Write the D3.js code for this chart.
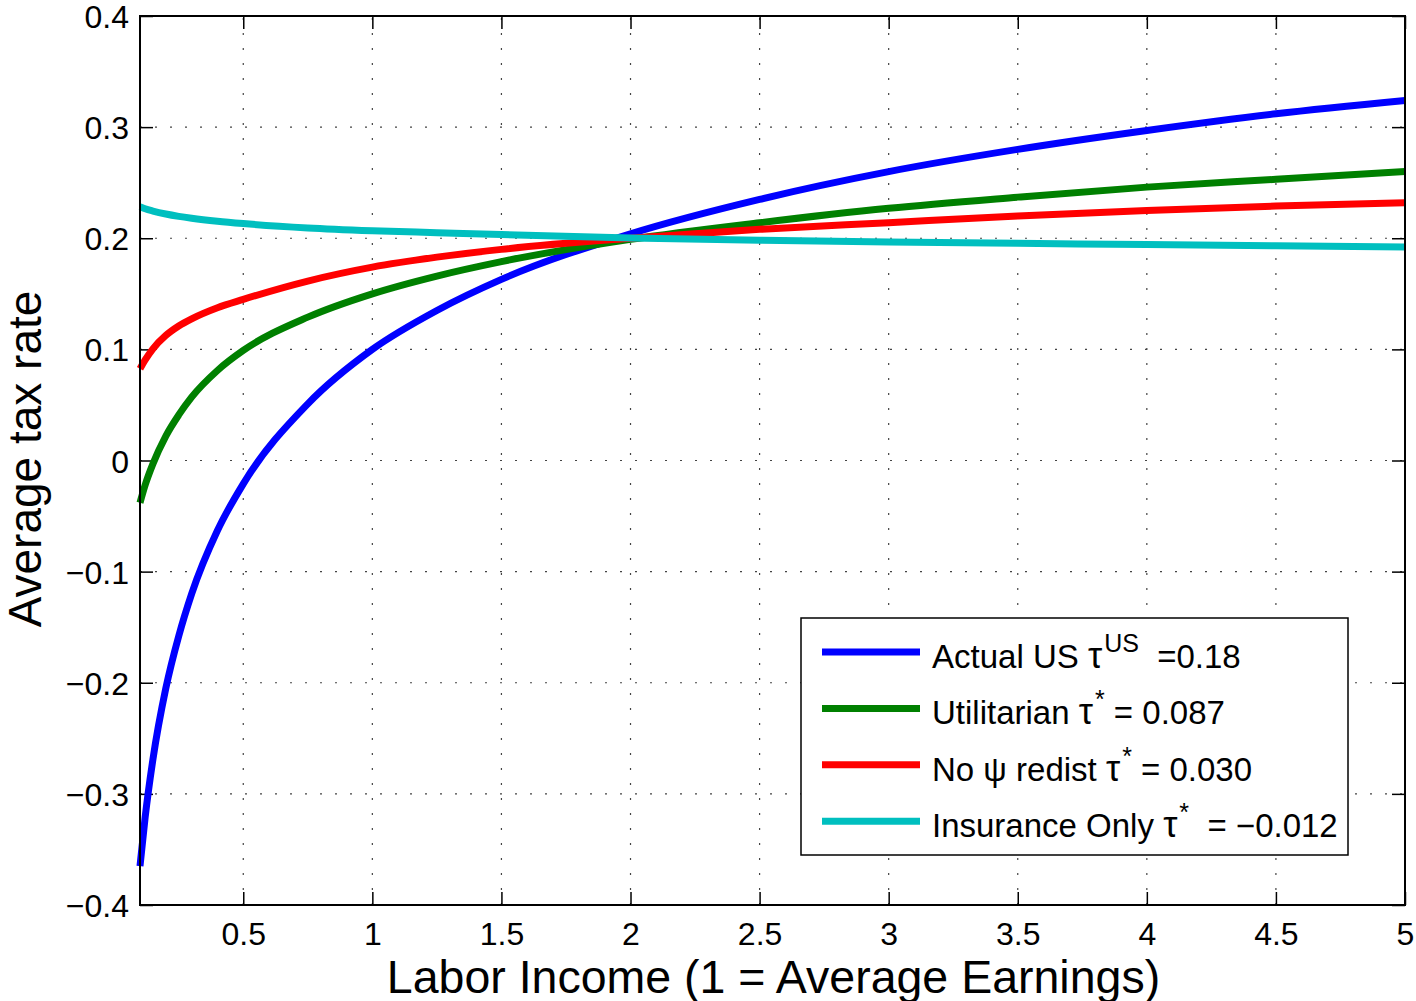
<!DOCTYPE html>
<html>
<head>
<meta charset="utf-8">
<script src="https://cdn.jsdelivr.net/npm/d3@7"></script>
<style>
  body { margin: 0; background: #fff; }
  text { font-family: "Liberation Sans", Arial, Helvetica, sans-serif; fill: #000; white-space: pre; }
</style>
</head>
<body>
<svg id="chart" width="1416" height="1001"></svg>
<script>
// Labor income (1 = average earnings) and average tax rate under each scheme
const income      = [0.1, 0.12, 0.15, 0.2, 0.25, 0.3, 0.4, 0.5, 0.75, 1, 1.25, 1.5, 2, 2.5, 3, 3.5, 4, 4.5, 5];
const actualUS    = [-0.365, -0.321, -0.269, -0.205, -0.158, -0.120, -0.063, -0.021, 0.051, 0.100, 0.135, 0.163, 0.204, 0.235, 0.260, 0.280, 0.297, 0.312, 0.324];
const utilitarian = [-0.038, -0.022, -0.003, 0.022, 0.041, 0.057, 0.081, 0.099, 0.129, 0.150, 0.166, 0.179, 0.199, 0.214, 0.227, 0.237, 0.246, 0.253, 0.260];
const noPsiRedist = [0.0825, 0.0905, 0.1005, 0.1125, 0.1210, 0.1275, 0.1375, 0.1450, 0.1615, 0.1740, 0.1830, 0.1900, 0.2000, 0.2080, 0.2140, 0.2200, 0.2250, 0.2290, 0.2320];
const insurance   = [0.2283, 0.2265, 0.2245, 0.2218, 0.2197, 0.2180, 0.2153, 0.2132, 0.2093, 0.2068, 0.2050, 0.2033, 0.2003, 0.1983, 0.1967, 0.1955, 0.1943, 0.1932, 0.1922];

const xTicks = [0.5, 1, 1.5, 2, 2.5, 3, 3.5, 4, 4.5, 5];
const yTicks = [-0.4, -0.3, -0.2, -0.1, 0, 0.1, 0.2, 0.3, 0.4];

const seriesValues = [actualUS, utilitarian, noPsiRedist, insurance];
const seriesColors = ["#0000ff", "#008000", "#ff0000", "#00bfbf"];
const legendMain   = ["Actual US ", "Utilitarian ", "No ψ redist ", "Insurance Only "];
const legendSup    = ["US", "*", "*", "*"];
const legendTail   = ["  =0.18", " = 0.087", " = 0.030", "  = −0.012"];

const xLabel = "Labor Income (1 = Average Earnings)";
const yLabel = "Average tax rate";

const svg = d3.select("#chart");
const plotL = 140, plotR = 1405, plotT = 16, plotB = 905;

const x = d3.scaleLinear().domain([0.1, 5]).range([plotL, plotR]);
const y = d3.scaleLinear().domain([-0.4, 0.4]).range([plotB, plotT]);

const fmt = v => (v < 0 ? "−" : "") + d3.format("")(Math.abs(+v.toFixed(2)));

// dotted grid
const grid = svg.append("g").attr("stroke", "#444").attr("stroke-width", 1.2)
  .attr("stroke-dasharray", "2,13");
grid.selectAll(".gx").data(xTicks).join("line")
  .attr("x1", d => x(d)).attr("x2", d => x(d)).attr("y1", plotB).attr("y2", plotT);
grid.selectAll(".gy").data(yTicks).join("line")
  .attr("y1", d => y(d)).attr("y2", d => y(d)).attr("x1", plotL).attr("x2", plotR);

// axes with inward ticks on all four sides
const tickLen = 13;
const axB = svg.append("g").attr("transform", `translate(0,${plotB})`)
  .call(d3.axisBottom(x).tickValues(xTicks).tickSizeInner(-tickLen).tickSizeOuter(0).tickPadding(17).tickFormat(fmt));
const axT = svg.append("g").attr("transform", `translate(0,${plotT})`)
  .call(d3.axisTop(x).tickValues(xTicks).tickSizeInner(-tickLen).tickSizeOuter(0).tickFormat(""));
const axL = svg.append("g").attr("transform", `translate(${plotL},0)`)
  .call(d3.axisLeft(y).tickValues(yTicks).tickSizeInner(-tickLen).tickSizeOuter(0).tickPadding(11).tickFormat(fmt));
const axR = svg.append("g").attr("transform", `translate(${plotR},0)`)
  .call(d3.axisRight(y).tickValues(yTicks).tickSizeInner(-tickLen).tickSizeOuter(0).tickFormat(""));

[axB, axT, axL, axR].forEach(a => {
  a.select(".domain").remove();
  a.selectAll(".tick line").attr("stroke", "#000").attr("stroke-width", 1.5);
  a.selectAll("text").attr("font-size", 32).attr("font-family", null).attr("fill", "#000");
});
axB.selectAll(".tick text").attr("dy", "0.71em");
axL.selectAll(".tick text").attr("dy", "0.36em");

// data curves
const line = d3.line().x((d, i) => x(income[i])).y(d => y(d)).curve(d3.curveMonotoneX);
svg.append("g").selectAll("path").data(seriesValues).join("path")
  .attr("d", d => line(d))
  .attr("fill", "none")
  .attr("stroke", (d, i) => seriesColors[i])
  .attr("stroke-width", 7);

// frame
svg.append("rect").attr("x", plotL).attr("y", plotT)
  .attr("width", plotR - plotL).attr("height", plotB - plotT)
  .attr("fill", "none").attr("stroke", "#000").attr("stroke-width", 2);

// axis titles
svg.append("text").attr("x", (plotL + plotR) / 2 + 1).attr("y", 993)
  .attr("text-anchor", "middle").attr("font-size", 46.5).text(xLabel);
svg.append("text").attr("transform", "translate(41,459) rotate(-90)")
  .attr("text-anchor", "middle").attr("font-size", 46).text(yLabel);

// legend
const lg = svg.append("g");
lg.append("rect").attr("x", 801).attr("y", 618).attr("width", 547).attr("height", 237)
  .attr("fill", "#fff").attr("stroke", "#000").attr("stroke-width", 1.5);
const rowY = i => 652 + i * 56.4;
legendMain.forEach((name, i) => {
  lg.append("line").attr("x1", 822).attr("x2", 920).attr("y1", rowY(i)).attr("y2", rowY(i))
    .attr("stroke", seriesColors[i]).attr("stroke-width", 7);
  const t = lg.append("text").attr("x", 932).attr("y", rowY(i) + 16).attr("font-size", 33);
  t.append("tspan").text(name);
  t.append("tspan").attr("font-size", 36).text("τ");
  t.append("tspan").attr("dx", 2).attr("dy", -16).attr("font-size", 25).text(legendSup[i]);
  t.append("tspan").attr("dy", 16).text(legendTail[i]);
});
</script>
</body>
</html>
